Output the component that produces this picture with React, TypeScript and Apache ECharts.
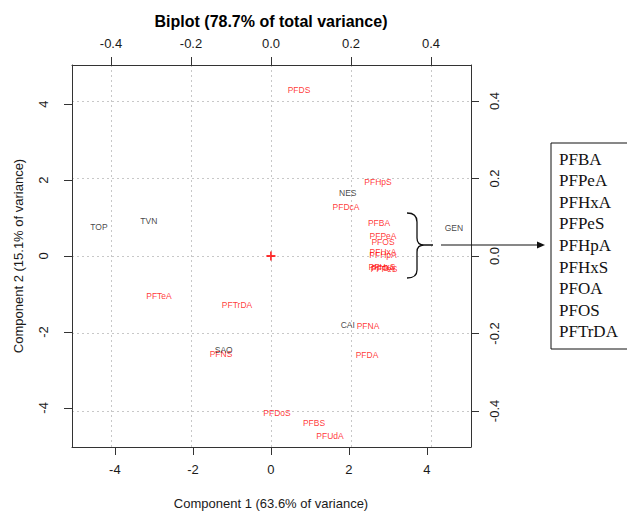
import React, { useEffect, useRef } from "react";
import * as echarts from "echarts";

const siteNames = ["TOP", "TVN", "NES", "GEN", "CAI", "SAO"];
const siteX = [-4.41, -3.13, 1.97, 4.69, 1.97, -1.21];
const siteY = [0.76, 0.92, 1.66, 0.74, -1.82, -2.47];

const varNames = [
  "PFDS", "PFHpS", "PFDcA", "PFBA", "PFPeA", "PFOS", "PFHxA", "PFHpA", "PFOA",
  "PFPeS", "PFHxS", "PFTeA", "PFTrDA", "PFNA", "PFDA", "PFNS", "PFDoS", "PFBS", "PFUdA",
];
const varX = [
  0.07, 0.2675, 0.1875, 0.27, 0.28, 0.28, 0.28, 0.28, 0.28,
  0.2825, 0.2775, -0.28, -0.085, 0.2425, 0.24, -0.125, 0.015, 0.1075, 0.1475,
];
const varY = [
  0.428, 0.191, 0.126, 0.085, 0.052, 0.036, 0.01, 0.003, -0.031,
  -0.034, -0.028, -0.103, -0.126, -0.181, -0.255, -0.253, -0.405, -0.431, -0.465,
];

const bottomTicks = [-4, -2, 0, 2, 4];
const leftTicks = [-4, -2, 0, 2, 4];
const topTicks = [-0.4, -0.2, 0, 0.2, 0.4];
const rightTicks = [-0.4, -0.2, 0, 0.2, 0.4];

const boxItems = ["PFBA", "PFPeA", "PFHxA", "PFPeS", "PFHpA", "PFHxS", "PFOA", "PFOS", "PFTrDA"];

const titleText = "Biplot (78.7% of total variance)";
const xTitle = "Component 1 (63.6% of variance)";
const yTitle = "Component 2 (15.1% of variance)";

const SANS = "'Liberation Sans', Arial, sans-serif";
const SERIF = "'Liberation Serif', 'Times New Roman', serif";

let registered = false;
function registerBrace() {
  if (registered) return;
  registered = true;
  const d =
    "M407,213 Q417,213 417,222 L417,238 Q417,245 424,245 L433,245 M424,245 Q417,245 417,252 L417,270 Q417,278 407,278";
  echarts.graphic.registerShape("brace", echarts.graphic.extendPath(d, {}) as any);
}

export default function App() {
  const ref = useRef<HTMLDivElement>(null);
  useEffect(() => {
    if (!ref.current) return;
    registerBrace();
    const chart = echarts.init(ref.current, null, { renderer: "svg" });
    const axisLine = { show: true, onZero: false, lineStyle: { color: "#333", width: 1 } };
    const tick = (vals: number[]) => ({
      show: true,
      inside: false,
      length: 8,
      customValues: vals,
      lineStyle: { color: "#333", width: 1 },
    });
    const label = (vals: number[], margin: number, rotate: number, dec: number) => ({
      show: true,
      customValues: vals,
      margin,
      rotate,
      color: "#1a1a1a",
      fontSize: 13,
      fontFamily: SANS,
      formatter: (v: number) => (dec > 0 ? Number(v).toFixed(dec) : String(Math.round(v))),
    });
    const grid = {
      show: true,
      lineStyle: { color: "#c8c8c8", type: [2, 3] as any, width: 1 },
    };

    const siteData = siteNames.map((n, i) => ({ name: n, value: [siteX[i], siteY[i]] }));
    const varData = varNames.map((n, i) => ({ name: n, value: [varX[i], varY[i]] }));

    chart.setOption({
      animation: false,
      grid: { left: 72, right: 156, top: 65, bottom: 64, containLabel: false },
      xAxis: [
        {
          type: "value",
          position: "bottom",
          min: -5.1,
          max: 5.13,
          axisLine,
          axisTick: tick(bottomTicks),
          axisLabel: label(bottomTicks, 16, 0, 0),
          splitLine: { show: false },
        },
        {
          type: "value",
          position: "top",
          min: -0.4975,
          max: 0.5,
          axisLine,
          axisTick: tick(topTicks),
          axisLabel: label(topTicks, 15, 0, 1),
          splitLine: grid,
        },
      ],
      yAxis: [
        {
          type: "value",
          position: "left",
          min: -5.03,
          max: 5.03,
          axisLine,
          axisTick: tick(leftTicks),
          axisLabel: label(leftTicks, 22, 90, 0),
          splitLine: { show: false },
        },
        {
          type: "value",
          position: "right",
          min: -0.493,
          max: 0.493,
          axisLine,
          axisTick: tick(rightTicks),
          axisLabel: label(rightTicks, 17, 90, 1),
          splitLine: grid,
        },
      ],
      series: [
        {
          type: "scatter",
          xAxisIndex: 1,
          yAxisIndex: 1,
          data: varData,
          symbolSize: 1,
          itemStyle: { color: "transparent" },
          label: {
            show: true,
            position: "inside",
            formatter: "{b}",
            color: "#ff0000",
            fontSize: 8.5,
            fontFamily: SANS,
          },
          z: 3,
        },
        {
          type: "scatter",
          xAxisIndex: 0,
          yAxisIndex: 0,
          data: siteData,
          symbolSize: 1,
          itemStyle: { color: "transparent" },
          label: {
            show: true,
            position: "inside",
            formatter: "{b}",
            color: "#111",
            fontSize: 8.5,
            fontFamily: SANS,
          },
          z: 4,
        },
        {
          type: "scatter",
          xAxisIndex: 0,
          yAxisIndex: 0,
          data: [[0, 0]],
          symbol: "path://M4,0H6V4H10V6H6V10H4V6H0V4H4Z",
          symbolSize: 9,
          itemStyle: { color: "#ff0000" },
          z: 5,
        },
      ],
      graphic: [
        {
          type: "text",
          x: 271,
          y: 21,
          style: {
            text: titleText,
            textAlign: "center",
            textVerticalAlign: "middle",
            font: `bold 16px ${SANS}`,
            fill: "#000",
          },
        },
        {
          type: "text",
          x: 271,
          y: 503,
          style: {
            text: xTitle,
            textAlign: "center",
            textVerticalAlign: "middle",
            font: `13px ${SANS}`,
            fill: "#1a1a1a",
          },
        },
        {
          type: "text",
          x: 18,
          y: 256,
          rotation: Math.PI / 2,
          style: {
            text: yTitle,
            textAlign: "center",
            textVerticalAlign: "middle",
            font: `13px ${SANS}`,
            fill: "#1a1a1a",
          },
        },
        {
          type: "brace",
          style: { stroke: "#111", fill: "none", lineWidth: 1.3 },
          z: 10,
        },
        {
          type: "line",
          shape: { x1: 441, y1: 245, x2: 540, y2: 245 },
          style: { stroke: "#111", lineWidth: 1.2 },
          z: 10,
        },
        {
          type: "polygon",
          shape: { points: [[537, 241.5], [545, 245], [537, 248.5]] },
          style: { fill: "#111" },
          z: 10,
        },
        {
          type: "rect",
          shape: { x: 551, y: 143, width: 90, height: 206 },
          style: { stroke: "#111", fill: "#fff", lineWidth: 1 },
          z: 10,
        },
        ...boxItems.map((t, i) => ({
          type: "text",
          x: 559,
          y: 159 + i * 21.6,
          z: 11,
          style: {
            text: t,
            textVerticalAlign: "middle",
            font: `17px ${SERIF}`,
            fill: "#111",
          },
        })),
      ],
    });
    return () => chart.dispose();
  }, []);
  return (
    <div
      ref={ref}
      style={{ position: "fixed", left: 0, top: 0, width: 627, height: 511, background: "#fff" }}
    />
  );
}
